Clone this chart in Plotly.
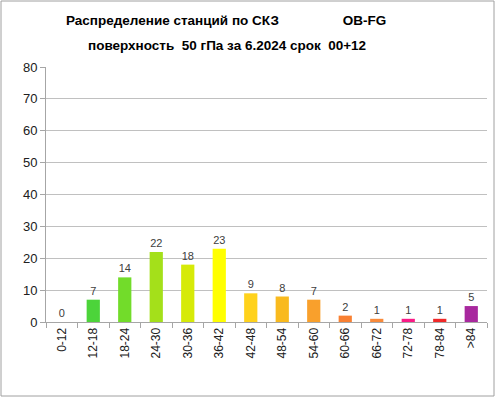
import plotly.graph_objects as go

categories = ["0-12", "12-18", "18-24", "24-30", "30-36", "36-42", "42-48",
              "48-54", "54-60", "60-66", "66-72", "72-78", "78-84", ">84"]
counts = [0, 7, 14, 22, 18, 23, 9, 8, 7, 2, 1, 1, 1, 5]
bar_colors = ["#3ED03A", "#4CD43A", "#72DC2A", "#A4E01A", "#D6EA08", "#FFFF00",
              "#FFD21C", "#F9BA1E", "#F9A02C", "#F98032", "#F98A3A", "#FA1A86",
              "#F02828", "#A8289E"]
y_ticks = [0, 10, 20, 30, 40, 50, 60, 70, 80]

W, H = 496, 399
ML, MR, MT, MB = 46, 9, 67, 77
pw, ph = W - ML - MR, H - MT - MB

fig = go.Figure(go.Bar(
    x=categories, y=counts,
    marker=dict(color=bar_colors, line=dict(width=0)),
    text=[str(v) for v in counts], textposition="outside",
    textfont=dict(family="Liberation Sans", size=11, color="#404040"),
    cliponaxis=False, width=0.42, hoverinfo="skip",
))

fig.update_layout(
    width=W, height=H,
    margin=dict(l=ML, r=MR, t=MT, b=MB, autoexpand=False),
    paper_bgcolor="white", plot_bgcolor="white",
    showlegend=False,
    font=dict(family="Liberation Sans", size=11, color="#404040"),
    xaxis=dict(type="category", tickangle=-90, showgrid=False, automargin=False,
               showline=True, linecolor="#a6a6a6", linewidth=1,
               ticks="outside", tickson="boundaries", ticklen=5, tickcolor="#a6a6a6",
               tickfont=dict(family="Liberation Sans", size=12, color="#202020")),
    yaxis=dict(range=[0, 80], tickvals=y_ticks, showgrid=True, gridcolor="#c0c0c0",
               automargin=False,
               gridwidth=1, showline=True, linecolor="#a6a6a6", linewidth=1,
               ticks="outside", ticklen=5, tickcolor="#a6a6a6", zeroline=False,
               tickfont=dict(family="Liberation Sans", size=13, color="#202020")),
    annotations=[
        dict(xref="paper", yref="paper", x=(226 - ML) / pw, y=(H - MB - 21) / ph,
             text="<b>Распределение станций по СКЗ" + "\u00a0" * 17 + "OB-FG</b>",
             showarrow=False, xanchor="center", yanchor="middle",
             font=dict(family="Liberation Sans", size=13.5, color="black")),
        dict(xref="paper", yref="paper", x=(227 - ML) / pw, y=(H - MB - 45) / ph,
             text="<b>поверхность  50 гПа за 6.2024 срок  00+12</b>",
             showarrow=False, xanchor="center", yanchor="middle",
             font=dict(family="Liberation Sans", size=13.5, color="black")),
    ],
    shapes=[dict(type="rect", xref="paper", yref="paper",
                 x0=(1 - ML) / pw, x1=(494 - ML) / pw,
                 y0=(H - MB - 396) / ph, y1=(H - MB - 1) / ph,
                 line=dict(color="#a0a0a0", width=1))],
)

fig.write_html("out.html", config={"displayModeBar": False},
               post_script="document.body.style.margin='0';")
